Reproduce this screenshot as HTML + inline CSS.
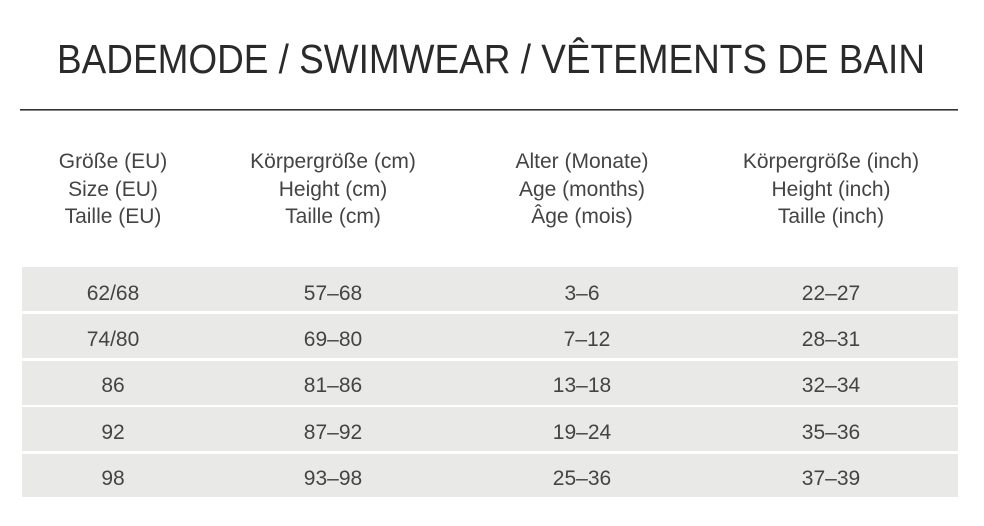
<!DOCTYPE html>
<html><head><meta charset="utf-8"><style>
html,body{margin:0;padding:0;background:#fff;}
svg{display:block}
text{font-family:"Liberation Sans",sans-serif;fill:#444;}
</style></head><body>
<svg width="984" height="526" viewBox="0 0 984 526">
<text x="491" y="73" font-size="41" text-anchor="middle" textLength="868" lengthAdjust="spacingAndGlyphs" style="fill:#2a2a2a">BADEMODE / SWIMWEAR / VÊTEMENTS DE BAIN</text>
<rect x="20" y="109" width="938" height="1.6" fill="#333"/>
<g font-size="21" text-anchor="middle">
<text x="113" y="168">Größe (EU)</text><text x="113" y="196">Size (EU)</text><text x="113" y="223">Taille (EU)</text>
<text x="333" y="168">Körpergröße (cm)</text><text x="333" y="196">Height (cm)</text><text x="333" y="223">Taille (cm)</text>
<text x="582" y="168">Alter (Monate)</text><text x="582" y="196">Age (months)</text><text x="582" y="223">Âge (mois)</text>
<text x="831" y="168">Körpergröße (inch)</text><text x="831" y="196">Height (inch)</text><text x="831" y="223">Taille (inch)</text>
</g>
<g fill="#e9e9e7">
<rect x="22" y="267" width="936" height="44"/>
<rect x="22" y="314" width="936" height="44"/>
<rect x="22" y="361" width="936" height="44"/>
<rect x="22" y="407" width="936" height="44"/>
<rect x="22" y="454" width="936" height="43"/>
</g>
<g font-size="21" text-anchor="middle">
<text x="113" y="300">62/68</text><text x="333" y="300">57–68</text><text x="582" y="300">3–6</text><text x="831" y="300">22–27</text>
<text x="113" y="346">74/80</text><text x="333" y="346">69–80</text><text x="587" y="346">7–12</text><text x="831" y="346">28–31</text>
<text x="113" y="392">86</text><text x="333" y="392">81–86</text><text x="582" y="392">13–18</text><text x="831" y="392">32–34</text>
<text x="113" y="439">92</text><text x="333" y="439">87–92</text><text x="582" y="439">19–24</text><text x="831" y="439">35–36</text>
<text x="113" y="485">98</text><text x="333" y="485">93–98</text><text x="582" y="485">25–36</text><text x="831" y="485">37–39</text>
</g>
</svg>
</body></html>
